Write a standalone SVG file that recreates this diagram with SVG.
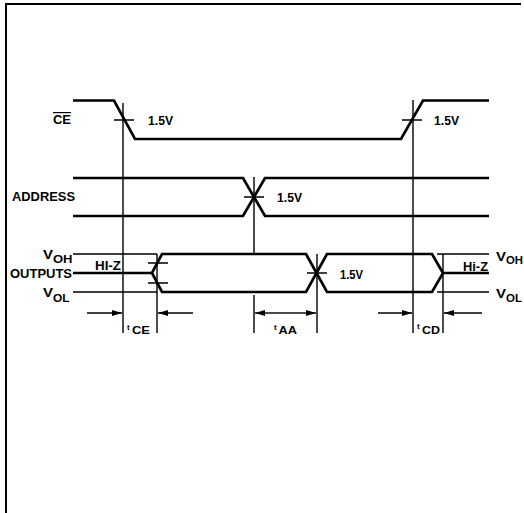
<svg xmlns="http://www.w3.org/2000/svg" width="524" height="513" viewBox="0 0 524 513">
<style>
.thick{fill:none;stroke:#000;stroke-width:2.7;stroke-linejoin:miter}
.thin{fill:none;stroke:#000;stroke-width:1.4}
.frame{fill:none;stroke:#000;stroke-width:2}
text{font-family:"Liberation Sans",Arial,sans-serif;font-weight:bold;fill:#000}
.lbl{font-size:12px}
.sub{font-size:11.5px}
.ts{font-size:8px}
</style>
<defs>
<marker id="ah" viewBox="0 0 10 6" refX="10" refY="3" markerWidth="10" markerHeight="6" markerUnits="userSpaceOnUse" orient="auto">
<path d="M0,0 L10,3 L0,6 Z" fill="#000"/>
</marker>
</defs>
<g id="frame">
<path class="frame" d="M6,513 V4 H521"/>
</g>
<g id="connectors">
<path class="thick" d="M73,100.5 H114 L135,139 H401 L423,100.5 H489"/>
<path class="thick" d="M73,178 H243 L265,216 H489 M73,216 H243 L265,178 H489"/>
<path class="thick" d="M73,273 H152 L162,254 H306 L327,292 H432 L443,273 H489 M152,273 L162,292 H306 L327,254 H432 L443,273"/>
<path class="thin" d="M73,254 H157 M73,292 H157 M437,254 H489 M437,292 H489"/>
<path class="thin" d="M123,103 V333 M413,100 V333 M254,177 V254 M254,295 V333 M317,254 V333 M157,254 V333 M443,254 V333"/>
<path class="thin" d="M114,120 H134 M402,120 H422 M244,197 H264 M307,273 H327 M148,263 H168 M148,283 H168"/>
<path class="thin" d="M87,313 H122" marker-end="url(#ah)"/>
<path class="thin" d="M193,313 H158" marker-end="url(#ah)"/>
<path class="thin" d="M285,313 H255" marker-end="url(#ah)"/>
<path class="thin" d="M285,313 H316" marker-end="url(#ah)"/>
<path class="thin" d="M378,313 H412" marker-end="url(#ah)"/>
<path class="thin" d="M482,313 H444" marker-end="url(#ah)"/>
</g>
<g id="ce-label">
<text class="lbl" x="53" y="124" textLength="18" lengthAdjust="spacingAndGlyphs" text-decoration="overline">CE</text>
</g>
<g id="ce-fall">
<text class="lbl" x="148" y="124.5" textLength="25" lengthAdjust="spacingAndGlyphs">1.5V</text>
</g>
<g id="ce-rise">
<text class="lbl" x="434" y="124.5" textLength="25" lengthAdjust="spacingAndGlyphs">1.5V</text>
</g>
<g id="address-label">
<text class="lbl" x="12" y="201" textLength="63" lengthAdjust="spacingAndGlyphs">ADDRESS</text>
</g>
<g id="address-cross">
<text class="lbl" x="277" y="201.5" textLength="25" lengthAdjust="spacingAndGlyphs">1.5V</text>
</g>
<g id="outputs-label">
<text class="lbl" x="10" y="277.5" textLength="62" lengthAdjust="spacingAndGlyphs">OUTPUTS</text>
<text class="lbl" x="43" y="258.5" textLength="10" lengthAdjust="spacingAndGlyphs">V</text>
<text class="sub" x="53" y="263" textLength="19.5" lengthAdjust="spacingAndGlyphs">OH</text>
<text class="lbl" x="43" y="297" textLength="10" lengthAdjust="spacingAndGlyphs">V</text>
<text class="sub" x="53" y="302" textLength="16.5" lengthAdjust="spacingAndGlyphs">OL</text>
</g>
<g id="hiz-left">
<text class="lbl" x="95" y="269.5" textLength="26" lengthAdjust="spacingAndGlyphs">HI-Z</text>
</g>
<g id="output-cross">
<text class="lbl" x="340" y="279" textLength="23" lengthAdjust="spacingAndGlyphs">1.5V</text>
</g>
<g id="hiz-right">
<text class="lbl" x="463" y="270.5" textLength="25" lengthAdjust="spacingAndGlyphs">Hi-Z</text>
<text class="lbl" x="496" y="260.5" textLength="10" lengthAdjust="spacingAndGlyphs">V</text>
<text class="sub" x="506" y="264" textLength="17" lengthAdjust="spacingAndGlyphs">OH</text>
<text class="lbl" x="496" y="297.5" textLength="10" lengthAdjust="spacingAndGlyphs">V</text>
<text class="sub" x="506" y="302" textLength="16" lengthAdjust="spacingAndGlyphs">OL</text>
</g>
<g id="tce">
<text class="ts" x="127" y="329.5">t</text>
<text class="sub" x="132" y="334" textLength="18" lengthAdjust="spacingAndGlyphs">CE</text>
</g>
<g id="taa">
<text class="ts" x="274" y="329.5">t</text>
<text class="sub" x="278.5" y="334" textLength="18.5" lengthAdjust="spacingAndGlyphs">AA</text>
</g>
<g id="tcd">
<text class="ts" x="417" y="329">t</text>
<text class="sub" x="422" y="334" textLength="18" lengthAdjust="spacingAndGlyphs">CD</text>
</g>
</svg>
